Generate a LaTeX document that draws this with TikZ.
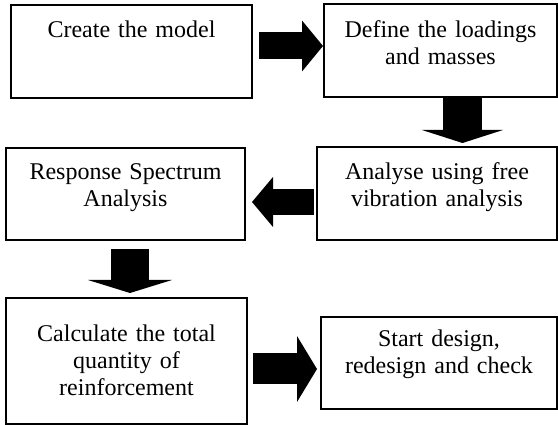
\documentclass[tikz,border=0pt]{standalone}
\usepackage{fontspec}
\setmainfont{Liberation Serif}
\usetikzlibrary{arrows.meta,calc}

\tikzset{every picture/.style={line width=1.5pt}}
\tikzset{
  stagebox/.style={draw, inner sep=0pt, outer sep=0pt, text width=220pt, align=center,
    anchor=north west, font=\fontsize{24pt}{27pt}\selectfont},
  blockarrow/.style n args={3}{line width=#1pt, -{Triangle[width=#2pt, length=#3pt, line width=0pt]}},
}

\begin{document}
\begin{tikzpicture}[x=1pt,y=1pt,yscale=-1,xscale=1]
    \useasboundingbox (0,0) rectangle (558,425);

    %Shape: Rectangle [create]
    \node[stagebox, minimum width=241pt, text height=33pt, text depth=60pt] (create) at (11,5) {Create the model};
    %Shape: Rectangle [loadings]
    \node[stagebox, minimum width=233pt, text height=34pt, text depth=59pt] (loadings) at (324,4) {Define the loadings\\and masses};
    %Shape: Rectangle [analyse]
    \node[stagebox, minimum width=240pt, text height=33pt, text depth=60pt] (analyse) at (317,147) {Analyse using free\\vibration analysis};
    %Shape: Rectangle [spectrum]
    \node[stagebox, minimum width=239pt, text height=32pt, text depth=60pt] (spectrum) at (6,148) {Response Spectrum\\Analysis};
    %Shape: Rectangle [calc]
    \node[stagebox, minimum width=241pt, text height=44pt, text depth=82pt] (calc) at (6,298) {Calculate the total\\quantity of\\reinforcement};
    %Shape: Rectangle [design]
    \node[stagebox, minimum width=236pt, text height=30pt, text depth=62pt] (design) at (321,317) {Start design,\\redesign and check};

    %Block arrows
    \draw[blockarrow={27}{51}{21}] ($(create.east)+(7,-5.5)$) -- ($(create.east -| loadings.west)+(-1,-5.5)$);
    \draw[blockarrow={39}{81}{13}] ($(loadings.south)+(22,0)$) -- ($(loadings.south |- analyse.north)+(22,-4)$);
    \draw[blockarrow={26}{50}{21}] ($(analyse.west)+(-3,8.5)$) -- ($(analyse.west -| spectrum.east)+(7,8.5)$);
    \draw[blockarrow={38}{84}{13}] ($(spectrum.south)+(4.5,9)$) -- ($(spectrum.south |- calc.north)+(4.5,-5)$);
    \draw[blockarrow={31}{66}{20}] ($(calc.east)+(6,8)$) -- ($(calc.east -| design.west)+(-4,8)$);
\end{tikzpicture}
\end{document}
